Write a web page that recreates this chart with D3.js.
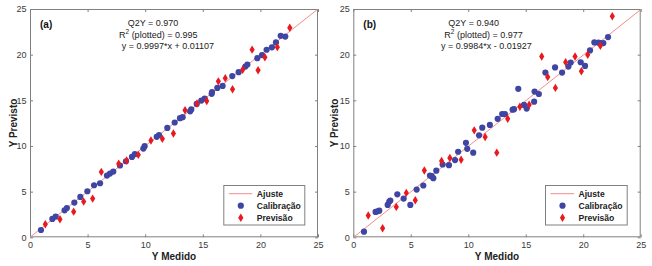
<!DOCTYPE html>
<html><head><meta charset="utf-8">
<script src="https://cdn.jsdelivr.net/npm/d3@7"></script>
<style>body{margin:0;background:#fff}svg{display:block}text{font-family:Arial,"Liberation Sans",sans-serif}</style>
</head><body>
<svg id="c" width="652" height="266"></svg>
<script>
const xTicks = [0,5,10,15,20,25];
const yTicks = [0,5,10,15,20,25];
const labels = ["(a)","(b)"];
const statsA = ["Q2Y = 0.970","(plotted) = 0.995","y = 0.9997*x + 0.01107"];
const statsB = ["Q2Y = 0.940","(plotted) = 0.977","y = 0.9984*x - 0.01927"];
const fitA = [0.9997, 0.01107];
const fitB = [0.9984, -0.01927];
const legendItems = ["Ajuste","Calibração","Previsão"];

const calA = [[0.95,0.8],[1.94,2.01],[2.23,2.27],[3.0,2.95],[3.2,3.2],[3.85,3.8],[4.37,4.42],[4.98,5.04],[5.56,5.7],[6.08,5.92],[6.68,6.76],[6.94,6.98],[7.23,7.2],[7.81,7.86],[8.33,8.33],[8.85,8.8],[9.1,9.1],[9.84,9.72],[9.95,9.98],[11.0,11.0],[11.2,11.2],[11.92,11.98],[12.56,12.57],[13.02,13.04],[13.25,13.15],[13.9,13.8],[14.0,14.0],[14.47,14.6],[14.87,14.97],[15.16,15.2],[15.77,15.71],[15.8,15.9],[16.26,16.36],[16.72,16.58],[17.56,17.65],[18.11,18.08],[18.69,18.7],[18.87,18.92],[19.73,19.62],[20.14,19.95],[20.54,20.54],[21.0,20.8],[21.35,21.34],[21.76,22.06],[22.16,21.98]];
const preA = [[1.33,1.43],[2.6,1.97],[3.79,2.81],[4.66,3.91],[5.44,4.24],[6.19,7.16],[7.7,8.06],[8.39,8.41],[9.4,9.03],[10.5,10.6],[11.49,10.78],[12.45,11.37],[13.46,13.92],[14.5,14.65],[15.34,14.92],[16.35,17.08],[16.95,17.43],[17.58,16.21],[18.46,18.34],[19.28,20.55],[19.8,18.3],[20.39,19.72],[21.47,20.82],[22.55,22.95]];
const calB = [[0.93,0.62],[1.94,2.78],[2.12,2.85],[2.26,2.92],[2.99,3.55],[3.13,3.91],[3.22,4.02],[3.83,4.71],[4.38,4.24],[4.96,3.55],[5.51,5.23],[6.09,5.67],[6.67,6.76],[6.82,6.69],[6.96,6.47],[7.22,7.3],[7.77,7.97],[8.32,7.9],[8.85,8.46],[9.12,9.37],[9.8,10.35],[9.91,9.69],[10.43,9.27],[10.94,11.17],[11.22,12.0],[11.88,12.31],[12.56,12.97],[12.95,13.5],[13.19,13.5],[13.86,13.98],[13.98,14.03],[14.35,16.26],[14.85,14.5],[15.08,14.1],[15.73,14.85],[15.77,15.96],[16.14,15.69],[16.71,18.04],[17.55,18.6],[18.16,18.04],[18.71,18.7],[18.91,19.14],[19.78,19.17],[20.16,18.77],[20.59,20.46],[20.97,21.34],[21.32,21.31],[21.49,21.27],[21.75,21.27],[22.16,21.93]];
const preB = [[1.3,2.38],[2.55,0.99],[3.74,3.33],[4.61,4.86],[5.39,4.06],[6.18,7.31],[7.68,8.35],[8.4,8.68],[9.38,8.5],[10.52,11.71],[11.47,10.98],[12.48,9.27],[13.43,12.98],[14.49,14.29],[15.3,14.52],[16.39,19.8],[16.91,17.56],[17.58,16.36],[18.47,19.18],[19.29,19.8],[19.84,18.19],[20.39,19.99],[21.49,20.98],[22.53,24.2]];

const svg = d3.select("#c");
const blue = "#3f45a3", red = "#e8191f", pink = "#f28c8c";
const diamond = "M0,-4.2 L2.6,0 L0,4.2 L-2.6,0 Z";

function panel(cfg){
  const x = d3.scaleLinear().domain([0,25]).range([cfg.x0, cfg.x1]);
  const y = d3.scaleLinear().domain([0,25]).range([237.3, 9]);
  const g = svg.append("g");
  const cid = "clip"+cfg.id;
  svg.append("clipPath").attr("id",cid).append("rect")
    .attr("x",cfg.x0).attr("y",9).attr("width",cfg.x1-cfg.x0).attr("height",237.3-9);
  // axes
  const ax = (gen, tr) => {
    const a = g.append("g").attr("transform",tr).call(gen);
    a.select(".domain").remove();
    a.selectAll("line").attr("stroke","#808080");
    a.selectAll("text").attr("fill","#3a3a3a").style("font-size","9px").style("font-family","Arial, 'Liberation Sans', sans-serif");
    return a;
  };
  ax(d3.axisBottom(x).tickValues(xTicks).tickSize(-3).tickPadding(4), `translate(0,237.3)`);
  ax(d3.axisTop(x).tickValues(xTicks).tickSize(-3).tickFormat(""), `translate(0,9)`);
  ax(d3.axisLeft(y).tickValues(yTicks).tickSize(-3).tickPadding(3.5), `translate(${cfg.x0},0)`);
  ax(d3.axisRight(y).tickValues(yTicks).tickSize(-3).tickFormat(""), `translate(${cfg.x1},0)`);
  g.append("rect").attr("x",cfg.x0+0.5).attr("y",9.5).attr("width",cfg.x1-cfg.x0-1).attr("height",237.3-9-1)
    .attr("fill","none").attr("stroke","#808080");
  // fit line
  g.append("line").attr("clip-path",`url(#${cid})`)
    .attr("x1",x(0)).attr("y1",y(cfg.fit[1]))
    .attr("x2",x(26)).attr("y2",y(cfg.fit[0]*26+cfg.fit[1]))
    .attr("stroke",pink).attr("stroke-width",1);
  g.append("g").selectAll("circle").data(cfg.cal).join("circle")
    .attr("cx",d=>x(d[0])).attr("cy",d=>y(d[1])).attr("r",3.1).attr("fill",blue);
  g.append("g").selectAll("path").data(cfg.pre).join("path")
    .attr("d",diamond).attr("transform",d=>`translate(${x(d[0])},${y(d[1])})`).attr("fill",red);
  // labels
  g.append("text").attr("x",cfg.x0+10).attr("y",28).text(cfg.label)
    .style("font-size","10px").style("font-weight","bold").attr("fill","#111");
  const st = g.append("g").style("font-size","9px").attr("fill","#222");
  st.append("text").attr("x",cfg.sx[0]).attr("y",25.5).text(cfg.stats[0]);
  const r2 = st.append("text").attr("x",cfg.sx[1]).attr("y",37.5);
  r2.append("tspan").text("R");
  r2.append("tspan").attr("dy",-3.5).style("font-size","6.5px").text("2");
  r2.append("tspan").attr("dy",3.5).text(" "+cfg.stats[1]);
  st.append("text").attr("x",cfg.sx[2]).attr("y",49).text(cfg.stats[2]);
  // axis titles
  g.append("text").attr("x",(cfg.x0+cfg.x1)/2).attr("y",259.5).attr("text-anchor","middle")
    .style("font-size","10px").style("font-weight","bold").attr("fill","#222").text("Y Medido");
  g.append("text").attr("transform",`translate(${cfg.yl},123) rotate(-90)`).attr("text-anchor","middle")
    .style("font-size","10px").style("font-weight","bold").attr("fill","#222").text("Y Previsto");
  // legend
  const L = cfg.leg;
  const lg = g.append("g");
  lg.append("rect").attr("x",L[0]+0.5).attr("y",185.5).attr("width",L[1]-L[0]).attr("height",39.5)
    .attr("fill","#fff").attr("stroke","#808080");
  const rows = [193.7,205.7,217.7];
  lg.append("line").attr("x1",L[0]+5.5).attr("x2",L[0]+29).attr("y1",rows[0]).attr("y2",rows[0]).attr("stroke",pink);
  lg.append("circle").attr("cx",L[0]+17.5).attr("cy",rows[1]).attr("r",3.1).attr("fill",blue);
  lg.append("path").attr("d",diamond).attr("transform",`translate(${L[0]+17.5},${rows[2]})`).attr("fill",red);
  lg.selectAll("text").data(legendItems).join("text")
    .attr("x",L[0]+33.5).attr("y",(d,i)=>rows[i]+3.2).text(d=>d)
    .style("font-size","8.6px").style("font-weight","bold").attr("fill","#222");
}

panel({id:"a",x0:30,x1:318,fit:fitA,cal:calA,pre:preA,label:labels[0],stats:statsA,sx:[127.7,119,121.7],yl:17,leg:[223.3,304.3]});
panel({id:"b",x0:353.3,x1:640.7,fit:fitB,cal:calB,pre:preB,label:labels[1],stats:statsB,sx:[448.3,444.3,441],yl:337.5,leg:[545,626.7]});
</script>
</body></html>
